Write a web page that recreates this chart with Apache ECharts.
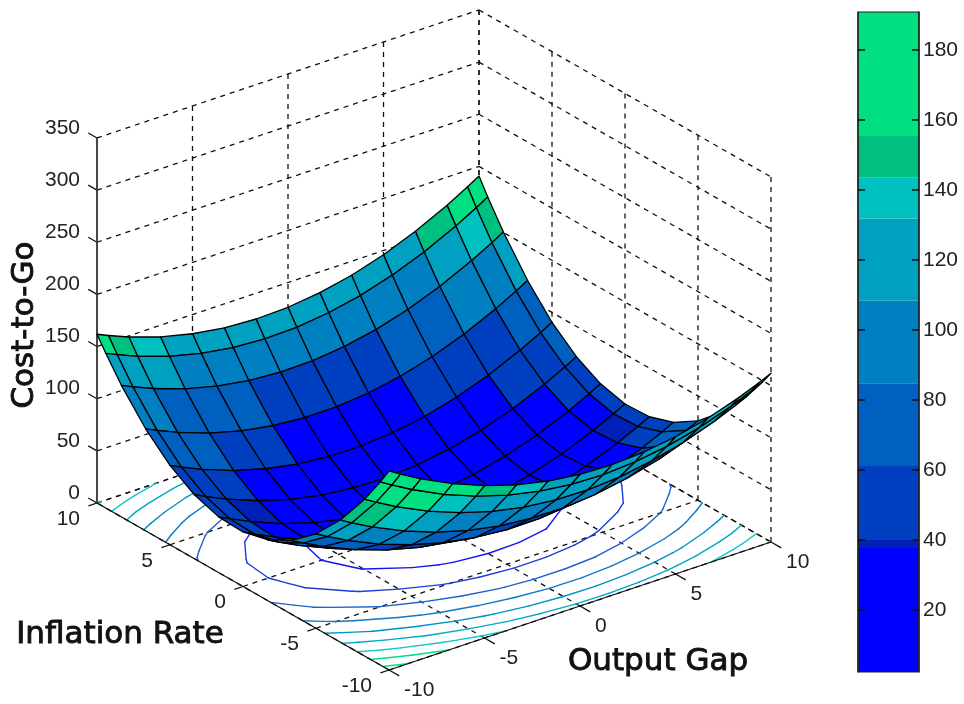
<!DOCTYPE html>
<html><head><meta charset="utf-8">
<style>html,body{margin:0;padding:0;background:#fff}#c{width:964px;height:704px}</style>
<script src="https://cdn.jsdelivr.net/npm/echarts@6/dist/echarts.min.js"></script>
</head><body><div id="c"></div>
<script>
// ---------- data ----------
const gridNodes = [-10,-9.4,-8.33,-6.67,-5,-3.33,-1.67,0,1.67,3.33,5,6.67,8.33,9.4,10];
const oTicks = [-10,-5,0,5,10];
const iTicks = [-10,-5,0,5,10];
const zTicks = [0,50,100,150,200,250,300,350];
const barTicks = [20,40,60,80,100,120,140,160,180];
const contourLevels = [20,40,60,80,100,120,140,160,180];
const contourColors = ['#1414f4','#1c3cdc','#1f60d0','#1078c8','#0090c4','#00a8c4','#10c8c8','#00e080','#00e080'];
// surface height: rows follow inflation nodes, columns follow output-gap nodes
const cost = [
[190.8,184.1,173.1,158.2,146.0,136.6,130.1,126.3,125.3,127.0,131.6,138.8,148.9,156.9,161.8],
[175.5,168.9,158.0,143.2,131.2,121.9,115.6,111.9,111.0,112.9,117.6,125.0,135.2,143.3,148.3],
[150.4,143.9,133.1,118.6,106.8,97.8,91.7,88.3,87.7,89.8,94.8,102.4,112.9,121.1,126.2],
[117.2,110.8,100.3,86.2,74.8,66.2,60.5,57.5,57.3,59.8,65.2,73.2,84.1,92.6,97.8],
[90.6,84.3,74.0,60.3,49.4,41.2,35.9,33.3,33.5,36.4,42.2,50.7,62.0,70.7,76.1],
[70.9,64.8,54.8,41.5,31.0,23.2,18.3,16.1,16.7,20.0,26.2,35.1,46.8,55.8,61.3],
[58.2,52.3,42.5,29.6,19.5,12.1,7.6,5.8,6.8,10.5,17.1,26.4,38.5,47.7,53.4],
[52.3,46.5,37.0,24.5,14.8,7.8,3.7,2.3,3.7,7.8,14.8,24.5,37.0,46.5,52.3],
[53.4,47.7,38.5,26.4,17.1,10.5,6.8,5.8,7.6,12.1,19.5,29.6,42.5,52.3,58.2],
[61.3,55.8,46.8,35.1,26.2,20.0,16.7,16.1,18.3,23.2,31.0,41.5,54.8,64.8,70.9],
[76.1,70.7,62.0,50.7,42.2,36.4,33.5,33.3,35.9,41.2,49.4,60.3,74.0,84.3,90.6],
[97.8,92.6,84.1,73.2,65.2,59.8,57.3,57.5,60.5,66.2,74.8,86.2,100.3,110.8,117.2],
[126.2,121.1,112.9,102.4,94.8,89.8,87.7,88.3,91.7,97.8,106.8,118.6,133.1,143.9,150.4],
[148.3,143.3,135.2,125.0,117.6,112.9,111.0,111.9,115.6,121.9,131.2,143.2,158.0,168.9,175.5],
[161.8,156.9,148.9,138.8,131.6,127.0,125.3,126.3,130.1,136.6,146.0,158.2,173.1,184.1,190.8]
];
// colour value of the few facets whose band differs from their first corner: [row, column, value]
const facetColorFixes = [[13,0,160],[13,1,150],[13,11,150],[9,0,58]];
const bandEdges = [2.3,37.7,40,61.2,84.8,108.4,131.9,143.7,155.5,190.9];
const bandColors = ['#0000ff','#0020b8','#0040c0','#0060c0','#0080c0','#00a0c0','#00c0c0','#00c080','#00e080'];
const axisTitles = ['Cost-to-Go','Inflation Rate','Output Gap'];

// ---------- view (orthographic, from the axis box) ----------
const view = {x0:389,y0:670,ox:19.1,oy:-6.4,ix:-14.6,iy:-8.35,z:1.043};
const project = (o,i,z)=>[
  view.x0+view.ox*(o+10)+view.ix*(i+10),
  view.y0+view.oy*(o+10)+view.iy*(i+10)-view.z*z
];
const bandColor = v=>{
  for(let k=0;k<bandColors.length;k++) if(v<bandEdges[k+1]) return bandColors[k];
  return bandColors[bandColors.length-1];
};
const facetValue = (r,c)=>{
  const f=facetColorFixes.find(e=>e[0]===r&&e[1]===c);
  return f?f[2]:cost[r][c];
};
const labelFont = '21px "Liberation Sans"';
const labelFill = '#222';
const titleFont = '31px "DejaVu Sans"';

// ---------- build draw lists from the data ----------
const dashed = [];
oTicks.forEach(o=>dashed.push([[o,-10,0],[o,10,0]]));
iTicks.forEach(i=>dashed.push([[-10,i,0],[10,i,0]]));
oTicks.slice(1).forEach(o=>dashed.push([[o,10,0],[o,10,350]]));
iTicks.forEach(i=>dashed.push([[10,i,0],[10,i,350]]));
zTicks.forEach(z=>{dashed.push([[-10,10,z],[10,10,z]]);dashed.push([[10,10,z],[10,-10,z]]);});

const solid = [[[-10,10,0],[-10,-10,0]],[[-10,-10,0],[10,-10,0]]];
iTicks.forEach(i=>solid.push([[-10,i,0],[-10.45,i,0]]));
oTicks.forEach(o=>solid.push([[o,-10,0],[o,-10.7,0]]));
zTicks.forEach(z=>solid.push([[-10,10,z],[-10,10.6,z]]));

const texts = [];
zTicks.forEach(z=>{const p=project(-10,10,z);texts.push({t:String(z),x:p[0]-17,y:p[1]-10,a:'right'});});
iTicks.forEach(i=>{const p=project(-10,i,0);texts.push({t:String(i),x:p[0]-17,y:p[1]+16,a:'right'});});
oTicks.forEach(o=>{const p=project(o,-10,0);texts.push({t:String(o),x:p[0]+15,y:p[1]+20,a:'left'});});

const cells = [];
for(let r=gridNodes.length-2;r>=0;r--) for(let c=gridNodes.length-2;c>=0;c--) cells.push([r,c]);

function contourSegments(level){
  const segs=[];
  const n=gridNodes.length;
  const cut=(a,b,za,zb)=>a+(b-a)*(level-za)/(zb-za);
  for(let r=0;r<n-1;r++)for(let c=0;c<n-1;c++){
    const z00=cost[r][c],z01=cost[r][c+1],z10=cost[r+1][c],z11=cost[r+1][c+1];
    const pts=[];
    const o0=gridNodes[c],o1=gridNodes[c+1],i0=gridNodes[r],i1=gridNodes[r+1];
    if((z00<level)!==(z01<level))pts.push([cut(o0,o1,z00,z01),i0]);
    if((z01<level)!==(z11<level))pts.push([o1,cut(i0,i1,z01,z11)]);
    if((z11<level)!==(z10<level))pts.push([cut(o1,o0,z11,z10),i1]);
    if((z10<level)!==(z00<level))pts.push([o0,cut(i1,i0,z10,z00)]);
    if(pts.length>=2)segs.push([pts[0],pts[1]]);
    if(pts.length===4)segs.push([pts[2],pts[3]]);
  }
  return segs;
}
const contourLines = contourLevels.map(contourSegments);

const indexData = arr=>arr.map((_,k)=>[k,0]);
const seg = (api,a,b,style)=>{
  const p=api.coord(project(a[0],a[1],a[2])),q=api.coord(project(b[0],b[1],b[2]));
  return {type:'line',shape:{x1:p[0],y1:p[1],x2:q[0],y2:q[1]},style};
};
const common = {type:'custom',coordinateSystem:'cartesian2d',xAxisIndex:0,yAxisIndex:0,clip:false,silent:true,animation:false,progressive:0};

const option = {
  backgroundColor:'#fff',
  animation:false,
  grid:[
    {show:false,left:0,top:0,width:964,height:704},
    {show:true,left:858,top:12,width:61,height:660,borderColor:'#222',borderWidth:1,backgroundColor:'transparent',z:5}
  ],
  xAxis:[
    {type:'value',gridIndex:0,min:0,max:964,show:false},
    {type:'value',gridIndex:1,min:0,max:1,show:false}
  ],
  yAxis:[
    {type:'value',gridIndex:0,min:0,max:704,inverse:true,show:false},
    {type:'value',gridIndex:1,min:bandEdges[0],max:bandEdges[bandEdges.length-1],position:'right',
      axisLine:{show:true,onZero:false,lineStyle:{color:'#222',width:1.5}},
      axisTick:{show:true,inside:true,length:7,customValues:barTicks,lineStyle:{color:'#111',width:1.5}},
      axisLabel:{show:true,customValues:barTicks,margin:4,color:labelFill,fontFamily:'Liberation Sans',fontSize:21,showMinLabel:true,showMaxLabel:true},
      splitLine:{show:false},z:6},
    {type:'value',gridIndex:1,min:bandEdges[0],max:bandEdges[bandEdges.length-1],position:'left',
      axisLine:{show:true,onZero:false,lineStyle:{color:'#222',width:1.5}},
      axisTick:{show:true,inside:true,length:7,customValues:barTicks,lineStyle:{color:'#111',width:1.5}},
      axisLabel:{show:false},splitLine:{show:false},z:6}
  ],
  series:[
    Object.assign({},common,{name:'walls',z:1,data:indexData(dashed),renderItem:(p,api)=>{
      const d=dashed[p.dataIndex];
      return seg(api,d[0],d[1],{stroke:'#111',lineWidth:1.3,lineDash:[5,5],fill:null});
    }}),
    Object.assign({},common,{name:'contours',z:2,data:indexData(contourLines),renderItem:(p,api)=>{
      const color=contourColors[p.dataIndex];
      return {type:'group',children:contourLines[p.dataIndex].map(s=>
        seg(api,[s[0][0],s[0][1],0],[s[1][0],s[1][1],0],{stroke:color,lineWidth:1.4,lineCap:'round',fill:null}))};
    }}),
    Object.assign({},common,{name:'axes',z:3,data:indexData(solid),renderItem:(p,api)=>{
      const d=solid[p.dataIndex];
      return seg(api,d[0],d[1],{stroke:'#111',lineWidth:1.3,fill:null});
    }}),
    Object.assign({},common,{name:'zaxis',z:3,data:[[0,0]],renderItem:(p,api)=>
      seg(api,[-10,10,0],[-10,10,350],{stroke:'#333',lineWidth:1.8,fill:null})
    }),
    Object.assign({},common,{name:'surface',z:4,data:cells,renderItem:(p,api)=>{
      const r=api.value(0),c=api.value(1);
      const corner=(a,b)=>api.coord(project(gridNodes[b],gridNodes[a],cost[a][b]));
      return {type:'polygon',shape:{points:[corner(r,c),corner(r,c+1),corner(r+1,c+1),corner(r+1,c)]},
        style:{fill:bandColor(facetValue(r,c)),stroke:'#000',lineWidth:1.3,lineJoin:'round'}};
    }}),
    Object.assign({},common,{name:'labels',z:5,data:indexData(texts),renderItem:(p,api)=>{
      const t=texts[p.dataIndex],q=api.coord([t.x,t.y]);
      return {type:'text',x:q[0],y:q[1],style:{text:t.t,font:labelFont,fill:labelFill,align:t.a,verticalAlign:'middle'}};
    }}),
    Object.assign({},common,{name:'titles',z:5,data:indexData(axisTitles),renderItem:(p,api)=>{
      const spots=[[25,325,Math.PI/2],[120,635,0],[658,662,0]];
      const s=spots[p.dataIndex],q=api.coord([s[0],s[1]]);
      return {type:'text',x:q[0],y:q[1],rotation:s[2],style:{text:axisTitles[p.dataIndex],font:titleFont,fill:'#111',stroke:'#111',lineWidth:0.9,align:'center',verticalAlign:'middle'}};
    }}),
    {type:'custom',name:'colorbar',coordinateSystem:'cartesian2d',xAxisIndex:1,yAxisIndex:1,clip:true,silent:true,animation:false,z:2,
      data:bandColors.map((_,k)=>[0,k]),
      renderItem:(p,api)=>{
        const k=p.dataIndex;
        const a=api.coord([0,bandEdges[k]]),b=api.coord([1,bandEdges[k+1]]);
        return {type:'rect',shape:{x:a[0],y:b[1],width:b[0]-a[0],height:a[1]-b[1]},style:{fill:bandColors[k]}};
      }}
  ]
};
echarts.init(document.getElementById('c'),null,{renderer:'canvas'}).setOption(option);
</script></body></html>
